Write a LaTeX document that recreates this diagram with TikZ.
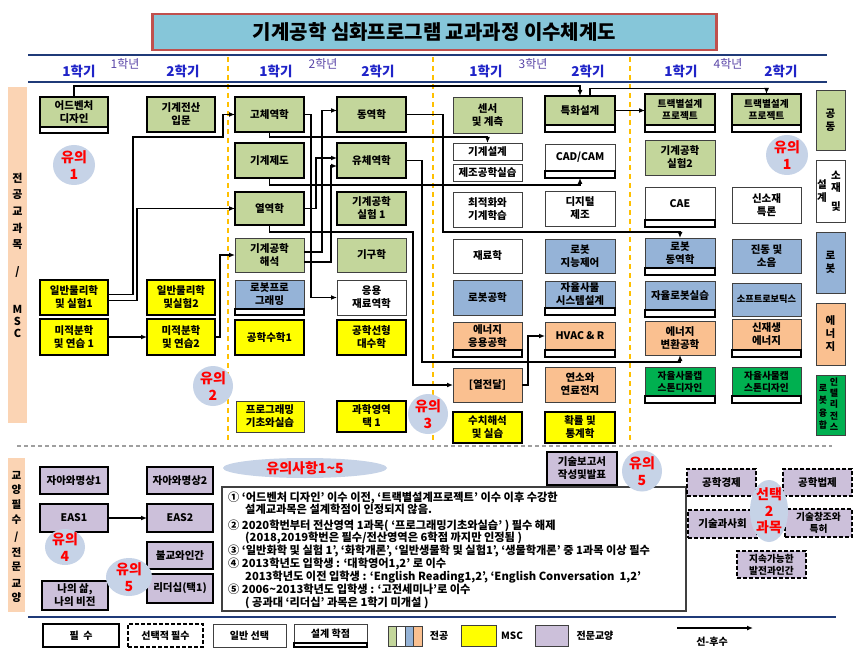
\documentclass[tikz,border=0pt]{standalone}
\usepackage{fontspec}
\setmainfont{Noto Sans CJK KR}
\usetikzlibrary{calc,arrows.meta,shapes.geometric}
\definecolor{cG}{HTML}{C3D69B}
\definecolor{cB}{HTML}{95B3D7}
\definecolor{cO}{HTML}{FAC090}
\definecolor{cY}{HTML}{FFFF00}
\definecolor{cP}{HTML}{CCC0DA}
\definecolor{cGG}{HTML}{00B050}
\definecolor{cPeach}{HTML}{FBD4B4}
\definecolor{cCirc}{HTML}{C6D3E7}
\definecolor{cTitle}{HTML}{86C6D9}
\definecolor{cTitleB}{HTML}{C0504D}
\definecolor{cNavy}{HTML}{1F3A78}
\definecolor{cSem}{HTML}{2024C8}
\definecolor{cYear}{HTML}{5A46A8}
\definecolor{cDash}{HTML}{FFC000}
\newcommand\bxn[7]{\node[#2, minimum width={#5-#3}, minimum height={#6-#4}] (#1) at ({(#3+#5)/2},{(#4+#6)/2}) {#7};}
\newcommand\dstr[2]{\draw[dstrip] (#1.south west) rectangle ($(#1.south east)+(0,#2)$);}
\begin{document}
\begin{tikzpicture}[x=1pt,y=-1pt,
  bx/.style={draw, align=center, inner sep=0.5pt, outer sep=0pt, font=\bfseries\fontsize{10.5}{13}\selectfont, text=black},
  sm/.style={font=\bfseries\fontsize{9.7}{12}\selectfont},
  req/.style={line width=2.4pt, draw=black},
  opt/.style={line width=0.9pt, draw=black!75},
  sel/.style={line width=1.7pt, draw=black, dash pattern=on 4pt off 2pt},
  dstrip/.style={draw=black, line width=2pt, fill=white},
  arr/.style={-{Latex[length=6pt,width=5pt]}, line width=1.3pt},
  note/.style={anchor=base west, font=\bfseries\fontsize{11.2}{12}\selectfont, inner sep=0pt},
  sem/.style={font=\bfseries\fontsize{13.5}{15}\selectfont, text=cSem, inner sep=0pt},
  yr/.style={font=\fontsize{12}{13}\selectfont, text=cYear, inner sep=0pt},
  vch/.style={font=\bfseries\fontsize{11}{12}\selectfont, inner sep=0pt},
  blob/.style={ellipse, fill=cCirc, inner sep=0pt},
  redt/.style={align=center, text=red, font=\bfseries\fontsize{14}{16.5}\selectfont, inner sep=0pt},
  navy/.style={draw=cNavy, line width=2.5pt},
  ydash/.style={draw=cDash, line width=1.5pt, dash pattern=on 5pt off 4pt},
  lgt/.style={font=\bfseries\fontsize{10}{12}\selectfont, inner sep=0pt}
]
\useasboundingbox (0,0) rectangle (861,660);
\fill[white] (0,0) rectangle (861,660);

% title
\node[draw=cTitleB, line width=2.2pt, fill=cTitle, minimum width=564pt, minimum height=36pt, inner sep=0pt,
  font=\bfseries\fontsize{20}{24}\selectfont] (title) at (434.5,32) {기계공학 심화프로그램 교과과정 이수체계도};

% header
\draw[navy] (28,55) -- (827,55);
\draw[navy] (28,82) -- (827,82);
\foreach \x/\t [count=\i] in {79/1학기,183/2학기,276/1학기,378/2학기,486/1학기,588/2학기,681/1학기,781/2학기}
  \node[sem] (sem\i) at (\x,71) {\t};
\foreach \x/\t [count=\i] in {125/1학년,323/2학년,533/3학년,728/4학년}
  \node[yr] (yr\i) at (\x,64) {\t};

% semester separators
\draw[ydash] (228,57) -- (228,441);
\draw[ydash] (433,57) -- (433,441);
\draw[ydash] (630,57) -- (630,441);

% left strips
\fill[cPeach] (8,87) rectangle (27,423);
\fill[cPeach] (8,458) rectangle (25,612);
\foreach \y/\t [count=\i] in {178/전,195/공,211/교,228/과,245/목,272/{/},309/M,321/S,333/C}
  \node[vch] (lt\i) at (17.5,\y) {\t};
\foreach \y/\t [count=\i] in {475/교,490/양,505/필,520/수,537/{/},552/전,567/문,583/교,598/양}
  \node[vch, font=\bfseries\fontsize{10.5}{12}\selectfont] (lb\i) at (16.5,\y) {\t};

% section separator
\draw[gray!75, line width=1.2pt, dash pattern=on 4pt off 3pt] (17,446) -- (832,446);

% ---- year 1
\bxn{adv}{bx,req,fill=cG}{40}{97}{108}{127}{어드벤처\\디자인}
\dstr{adv}{6}
\bxn{phy1}{bx,req,fill=cY}{40}{280}{108}{315}{일반물리학\\및 실험1}
\bxn{cal1}{bx,req,fill=cY}{40}{319}{108}{355}{미적분학\\및 연습 1}
\bxn{cmp}{bx,req,fill=cG}{147}{97}{215}{132}{기계전산\\입문}
\bxn{phy2}{bx,req,fill=cY}{147}{280}{215}{315}{일반물리학\\및실험2}
\bxn{cal2}{bx,req,fill=cY}{147}{319}{215}{355}{미적분학\\및 연습2}
% ---- year 2
\bxn{solid}{bx,req,fill=cG}{235}{97}{304}{132}{고체역학}
\bxn{drw}{bx,req,fill=cG}{235}{143}{304}{178}{기계제도}
\bxn{thermo}{bx,req,fill=cG}{235}{192}{304}{225}{열역학}
\bxn{mana}{bx,opt,fill=cG}{235}{238}{304}{272}{기계공학\\해석}
\bxn{rprog}{bx,opt,fill=cB}{235}{280}{304}{309}{로봇프로\\그래밍}
\dstr{rprog}{6}
\bxn{emath}{bx,req,fill=cY}{235}{320}{304}{355}{공학수학1}
\bxn{prog}{bx,opt,fill=cY}{236}{401}{304}{432}{프로그래밍\\기초와실습}
\bxn{dyn}{bx,req,fill=cG}{337}{97}{406}{132}{동역학}
\bxn{fluid}{bx,req,fill=cG}{337}{143}{406}{178}{유체역학}
\bxn{lab1}{bx,req,fill=cG}{337}{192}{406}{225}{기계공학\\실험 1}
\bxn{kin}{bx,opt,fill=cG}{337}{238}{406}{272}{기구학}
\bxn{amat}{bx,opt,fill=white}{337}{280}{406}{315}{응용\\재료역학}
\bxn{linalg}{bx,req,fill=cY}{337}{320}{406}{355}{공학선형\\대수학}
\bxn{sci}{bx,req,fill=cY}{337}{401}{406}{432}{과학영역\\택 1}
% ---- year 3
\bxn{sensor}{bx,opt,fill=cG}{453}{97}{522}{133}{센서\\및 계측}
\bxn{mdes}{bx,opt,fill=white}{453}{143}{522}{160}{기계설계}
\bxn{mfg}{bx,opt,fill=white}{453}{164}{522}{181}{제조공학실습}
\bxn{optm}{bx,opt,fill=white}{453}{192}{522}{227}{최적화와\\기계학습}
\bxn{matsci}{bx,opt,fill=white}{453}{239}{522}{273}{재료학}
\bxn{robot}{bx,opt,fill=cB}{453}{280}{522}{315}{로봇공학}
\bxn{eapp}{bx,opt,fill=cO}{453}{322}{522}{350}{에너지\\응용공학}
\dstr{eapp}{7}
\bxn{heat}{bx,opt,fill=cO}{453}{368}{522}{402}{{[}열전달{]}}
\bxn{num}{bx,req,fill=cY}{453}{412}{522}{443}{수치해석\\및 실습}
\bxn{spec}{bx,req,fill=cG}{545}{96}{615}{125}{특화설계}
\dstr{spec}{7}
\bxn{cad}{bx,opt,fill=white}{545}{144}{615}{171}{CAD/CAM}
\dstr{cad}{7}
\bxn{dig}{bx,opt,fill=white}{545}{191}{615}{226}{디지털\\제조}
\bxn{rint}{bx,opt,fill=cB}{545}{239}{615}{273}{로봇\\지능제어}
\bxn{asys}{bx,opt,fill=cB}{545}{281}{615}{308}{자율사물\\시스템설계}
\dstr{asys}{7}
\bxn{hvac}{bx,opt,fill=cO}{545}{322}{615}{350}{HVAC \& R}
\dstr{hvac}{7}
\bxn{comb}{bx,opt,fill=cO}{545}{367}{615}{402}{연소와\\연료전지}
\bxn{prob}{bx,req,fill=cY}{545}{412}{615}{443}{확률 및\\통계학}
% ---- year 4
\bxn{trk1}{bx,req,fill=cG,sm}{645}{94}{715}{125}{트랙별설계\\프로젝트}
\dstr{trk1}{7}
\bxn{lab2}{bx,opt,fill=cG}{645}{140}{715}{175}{기계공학\\실험2}
\bxn{cae}{bx,opt,fill=white}{645}{187}{715}{220}{CAE}
\dstr{cae}{7}
\bxn{rdyn}{bx,opt,fill=cB}{645}{238}{715}{268}{로봇\\동역학}
\dstr{rdyn}{7}
\bxn{arl}{bx,opt,fill=cB}{645}{281}{715}{310}{자율로봇실습}
\dstr{arl}{7}
\bxn{econv}{bx,opt,fill=cO}{645}{321}{715}{355}{에너지\\변환공학}
\bxn{cap1}{bx,opt,fill=cGG,sm}{645}{367}{715}{396}{자율사물캡\\스톤디자인}
\dstr{cap1}{7}
\bxn{trk2}{bx,req,fill=cG,sm}{732}{94}{801}{125}{트랙별설계\\프로젝트}
\dstr{trk2}{7}
\bxn{nmat}{bx,opt,fill=white}{732}{187}{801}{223}{신소재\\특론}
\bxn{vib}{bx,opt,fill=cB}{732}{239}{801}{273}{진동 및\\소음}
\bxn{soft}{bx,opt,fill=cB,font=\bfseries\fontsize{9.2}{11}\selectfont}{732}{283}{801}{316}{소프트로보틱스}
\bxn{renew}{bx,opt,fill=cO}{732}{319}{801}{350}{신재생\\에너지}
\dstr{renew}{7}
\bxn{cap2}{bx,opt,fill=cGG,sm}{732}{367}{801}{396}{자율사물캡\\스톤디자인}
\dstr{cap2}{7}
% ---- track categories
\bxn{cat1}{bx,opt,fill=cG}{816}{90}{845}{150}{공\\동}
\bxn{cat2}{bx,opt,fill=white}{816}{160}{845}{222}{}
\bxn{cat3}{bx,opt,fill=cB}{816}{232}{845}{293}{로\\봇}
\bxn{cat4}{bx,opt,fill=cO}{816}{303}{845}{365}{에\\너\\지}
\bxn{cat5}{bx,opt,fill=cGG}{816}{375}{845}{435}{}
\foreach \x/\y/\t [count=\i] in {836/175/소,836/188/재,836/207/및,822/185/설,822/198/계}
  \node[vch, font=\bfseries\fontsize{10.5}{12}\selectfont] (c2t\i) at (\x,\y) {\t};
\foreach \x/\y/\t [count=\i] in {834/382/인,834/393/텔,834/404/리,834/416/전,834/427/스,823/388/로,823/400/봇,823/413/융,823/425/합}
  \node[vch, font=\bfseries\fontsize{9}{10}\selectfont] (c5t\i) at (\x,\y) {\t};

% ---- connectors
\coordinate (jTopA) at (0,86);
\coordinate (jTopB) at (0,88.5);
\coordinate (j1) at (223,137);
\draw[arr] (adv.north) |- (jTopA -| spec.north) -- (spec.north);
\draw[arr] ($(spec.north)+(10,0)$) |- (jTopB -| trk2.north) -- (trk2.north);
\draw[arr] (spec.east) -- (spec.east -| trk1.west);
\draw[arr] ($(phy1.east)+(0,-3)$) -- ++(25,0) |- (j1) |- (solid.west);
\draw[arr] ($(phy1.east)+(0,3)$) -- ++(29,0) |- (thermo.west);
\draw[arr] (cal1.east) -- (cal2.west);
\draw[arr] (cal2.east) -- ++(5,0) |- (mana.west);
\draw[arr] (solid.east) -- ++(7,0) |- (amat.west);
\draw[arr] (solid.south) -- ++(0,5) -| (mdes.north);
\draw[arr] (drw.south) -- ++(0,7) -| ($(cad.south)+(0,7)$);
\draw[arr] (thermo.east) -- ++(12,0) |- ($(fluid.west)+(0,-2.5)$);
\draw[arr] ($(mana.east)+(0,-3)$) -- ++(18,0) |- ($(dyn.west)+(0,-4)$);
\draw[arr] ($(mana.east)+(0,7)$) -- ++(27,0) |- ($(fluid.west)+(0,5.5)$);
\draw[arr] (dyn.east) -- ++(37,0) |- ($(rdyn.north)+(0,-6)$) -- (rdyn.north);
\draw[arr] (fluid.east) -- ++(16,0) |- ($(econv.south)+(0,7)$) -- (econv.south);
\draw[arr] (thermo.south) -- ++(0,7) -| ($(heat.west)+(-40,0)$) -- (heat.west);
\draw[arr] (heat.east) -- ++(6,0) |- (hvac.west);

% ---- notes circles (upper)
\node[blob, minimum width=42pt, minimum height=40pt] (u1) at (74,165) {};
\node[redt] (u1t) at (u1) {유의\\1};
\node[blob, minimum width=42pt, minimum height=40pt] (u1r) at (787,155) {};
\node[redt] (u1rt) at (u1r) {유의\\1};
\node[blob, minimum width=40pt, minimum height=40pt] (u2) at (213,386) {};
\node[redt] (u2t) at (u2) {유의\\2};
\node[blob, minimum width=40pt, minimum height=40pt] (u3) at (428,414) {};
\node[redt] (u3t) at (u3) {유의\\3};

% ---- liberal arts
\bxn{self1}{bx,req,fill=cP}{40}{467}{108}{494}{자아와명상1}
\bxn{self2}{bx,req,fill=cP}{147}{467}{213}{494}{자아와명상2}
\bxn{eas1}{bx,req,fill=cP}{40}{504}{108}{532}{EAS1}
\bxn{eas2}{bx,req,fill=cP}{147}{504}{213}{532}{EAS2}
\bxn{bud}{bx,req,fill=cP}{147}{542}{213}{569}{불교와인간}
\bxn{life}{bx,req,fill=cP}{42}{581}{108}{610}{나의 삶,\\나의 비전}
\bxn{lead}{bx,req,fill=cP}{147}{574}{213}{603}{리더십(택1)}
\draw[arr] (eas1.east) -- (eas2.west);
\node[blob, minimum width=40pt, minimum height=36pt] (u4) at (65,547) {};
\node[redt] (u4t) at (u4) {유의\\4};
\node[blob, minimum width=46pt, minimum height=38pt] (u5) at (129,577) {};
\node[redt] (u5t) at (u5) {유의\\5};

% ---- notes box
\bxn{notes}{draw=black!75, line width=1.3pt, fill=white}{222}{487}{686}{611}{}
\bxn{tech}{bx,req,fill=cP}{547}{452}{617}{485}{기술보고서\\작성및발표}
\node[blob, minimum width=164pt, minimum height=20pt] (un) at (305,468) {};
\node[redt] (unt) at (un) {유의사항1\textasciitilde5};
\node[blob, minimum width=40pt, minimum height=41pt] (u5b) at (642,471) {};
\node[redt] (u5bt) at (u5b) {유의\\5};
\node[note] (n1) at (228,501) {① `어드벤처 디자인' 이수 이전, `트랙별설계프로젝트' 이수 이후 수강한};
\node[note] (n2) at (245,513) {설계교과목은 설계학점이 인정되지 않음.};
\node[note] (n3) at (228,529) {② 2020학번부터 전산영역 1과목( `프로그래밍기초와실습' ) 필수 해제};
\node[note] (n4) at (245,541) {(2018,2019학번은 필수/전산영역은 6학점 까지만 인정됨 )};
\node[note] (n5) at (228,554) {③ `일반화학 및 실험 1', `화학개론', `일반생물학 및 실험1', `생물학개론' 중 1과목 이상 필수};
\node[note] (n6) at (228,567) {④ 2013학년도 입학생 : `대학영어1,2' 로 이수};
\node[note] (n7) at (245,580) {2013학년도 이전 입학생 : `English Reading1,2', `English Conversation\ \ 1,2'};
\node[note] (n8) at (228,593) {⑤ 2006\textasciitilde2013학년도 입학생 : `고전세미나'로 이수};
\node[note] (n9) at (245,606) {( 공과대 `리더십' 과목은 1학기 미개설 )};

% ---- elective group
\bxn{econ}{bx,sel,fill=cP}{687}{469}{756}{496}{공학경제}
\bxn{law}{bx,sel,fill=cP}{783}{469}{852}{496}{공학법제}
\bxn{soc}{bx,sel,fill=cP}{688}{510}{757}{538}{기술과사회}
\bxn{pat}{bx,sel,fill=cP,sm}{785}{509}{852}{537}{기술창조와\\특허}
\bxn{sus}{bx,sel,fill=cP,sm}{737}{551}{806}{578}{지속가능한\\발전과인간}
\node[blob, minimum width=38pt, minimum height=62pt] (sel2) at (769,511) {};
\node[redt] (sel2t) at (sel2) {선택\\2\\과목};

% ---- bottom line & legend
\draw[navy] (28,617) -- (836,617);
\bxn{lg1}{bx,req,fill=white,lgt}{43}{624}{119}{647}{필\ \ 수}
\bxn{lg2}{bx,sel,fill=white,lgt}{128}{624}{203}{647}{선택적 필수}
\bxn{lg3}{bx,opt,fill=white,lgt}{213}{624}{286}{647}{일반 선택}
\bxn{lg4}{bx,opt,fill=white,lgt}{294}{624}{367}{643}{설계 학점}
\dstr{lg4}{4}
\draw[opt, fill=cG] (388,626) rectangle (396.5,646);
\draw[opt, fill=white] (396.5,626) rectangle (405,646);
\draw[opt, fill=cB] (405,626) rectangle (413.5,646);
\draw[opt, fill=cO] (413.5,626) rectangle (422,646);
\node[lgt] (lgmaj) at (439,636) {전공};
\draw[opt, fill=cY] (461,625) rectangle (496,646);
\node[lgt] (lgmsc) at (512,636) {MSC};
\draw[opt, fill=cP] (535,625) rectangle (568,646);
\node[lgt] (lgla) at (595,636) {전문교양};
\coordinate (la1) at (677,628);
\coordinate (la2) at (753,628);
\draw[arr] (la1) -- (la2);
\node[lgt] (lgpre) at (712,642) {선-후수};
\end{tikzpicture}
\end{document}
